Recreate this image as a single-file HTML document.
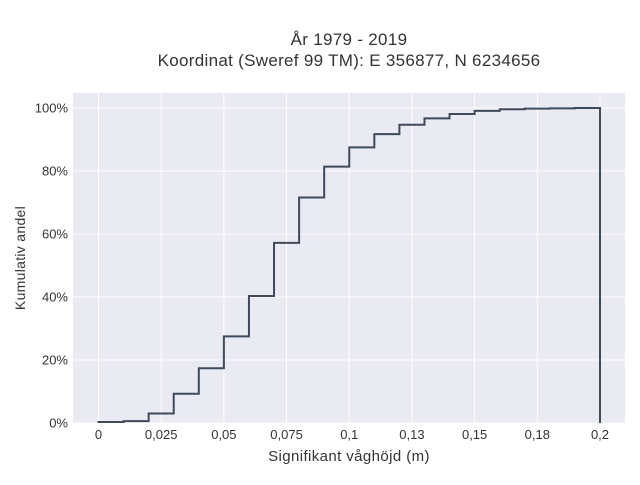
<!DOCTYPE html>
<html><head><meta charset="utf-8"><style>
body{margin:0;background:#fff;font-family:"Liberation Sans",sans-serif;}
svg text{font-family:"Liberation Sans",sans-serif;fill:#333;}
</style></head><body>
<svg id="chart" width="640" height="480">
<text x="349" y="45" text-anchor="middle" font-size="17" letter-spacing="0.3">År 1979 - 2019</text>
<text x="349" y="66" text-anchor="middle" font-size="17" letter-spacing="0.3">Koordinat (Sweref 99 TM): E 356877, N 6234656</text>
<rect x="73" y="93" width="552" height="330" fill="#eaeaf2"/>
<g id="grid"></g>
<g id="ticks"></g>
<path id="line" fill="none" stroke="#3f4a5a" stroke-width="2"/>
<text x="349" y="461" text-anchor="middle" font-size="15" letter-spacing="0.4">Signifikant våghöjd (m)</text>
<text transform="translate(25,258) rotate(-90)" text-anchor="middle" font-size="14" letter-spacing="0.3">Kumulativ andel</text>
</svg>
<script>
const binEdges=[0,0.01,0.02,0.03,0.04,0.05,0.06,0.07,0.08,0.09,0.1,0.11,0.12,0.13,0.14,0.15,0.16,0.17,0.18,0.19,0.2];
const cumValues=[0.003,0.006,0.03,0.093,0.174,0.275,0.403,0.572,0.716,0.814,0.875,0.917,0.947,0.967,0.981,0.991,0.996,0.998,0.999,1.0];
const xTicks=[0,0.025,0.05,0.075,0.1,0.125,0.15,0.175,0.2];
const xTickLabels=["0","0,025","0,05","0,075","0,1","0,13","0,15","0,18","0,2"];
const yTicks=[0,0.2,0.4,0.6,0.8,1.0];
const yTickLabels=["0%","20%","40%","60%","80%","100%"];
const X=v=>98.5+(v/0.2)*501.5;
const Y=v=>423-v*315;
const NS="http://www.w3.org/2000/svg";
const grid=document.getElementById('grid'),ticks=document.getElementById('ticks');
xTicks.forEach((t,i)=>{
 const l=document.createElementNS(NS,'line');
 l.setAttribute('x1',X(t));l.setAttribute('x2',X(t));l.setAttribute('y1',93);l.setAttribute('y2',423);
 l.setAttribute('stroke','#fff');l.setAttribute('stroke-width','1');
 
 
 grid.appendChild(l);
 const tx=document.createElementNS(NS,'text');
 tx.setAttribute('x',X(t));tx.setAttribute('y',439);tx.setAttribute('text-anchor','middle');tx.setAttribute('font-size','13');
 tx.textContent=xTickLabels[i];
 
 
 ticks.appendChild(tx);
});
yTicks.forEach((t,i)=>{
 const l=document.createElementNS(NS,'line');
 l.setAttribute('x1',73);l.setAttribute('x2',625);l.setAttribute('y1',Y(t));l.setAttribute('y2',Y(t));
 l.setAttribute('stroke','#fff');l.setAttribute('stroke-width','1');
 
 
 grid.appendChild(l);
 const tx=document.createElementNS(NS,'text');
 tx.setAttribute('x',68);tx.setAttribute('y',Y(t)+4.5);tx.setAttribute('text-anchor','end');tx.setAttribute('font-size','13');
 tx.textContent=yTickLabels[i];
 
 
 ticks.appendChild(tx);
});
let d='M'+X(binEdges[0])+','+Y(0);
cumValues.forEach((v,i)=>{d+=' L'+X(binEdges[i])+','+Y(v)+' L'+X(binEdges[i+1])+','+Y(v);});
d+=' L'+X(binEdges[binEdges.length-1])+','+Y(0);
document.getElementById('line').setAttribute('d',d);
</script>
</body></html>
